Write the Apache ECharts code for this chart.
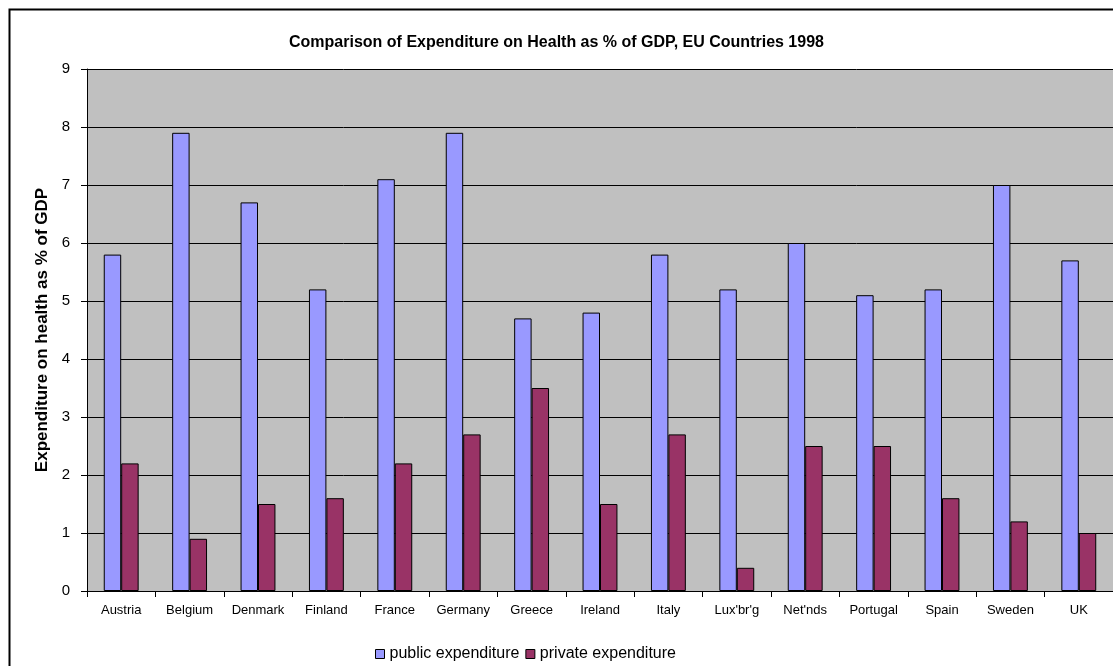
<!DOCTYPE html>
<html><head><meta charset="utf-8">
<script src="https://cdn.jsdelivr.net/npm/echarts@6/dist/echarts.min.js"></script>
<style>html,body{margin:0;padding:0;background:#fff}#c{width:1113px;height:666px}</style>
</head><body><div id="c"></div>
<script>
var categories = ["Austria","Belgium","Denmark","Finland","France","Germany","Greece","Ireland","Italy","Lux'br'g","Net'nds","Portugal","Spain","Sweden","UK"];
var publicExp = [5.8,7.9,6.7,5.2,7.1,7.9,4.7,4.8,5.8,5.2,6.0,5.1,5.2,7.0,5.7];
var privateExp = [2.2,0.9,1.5,1.6,2.2,2.7,3.5,1.5,2.7,0.4,2.5,2.5,1.6,1.2,1.0];
var yTicks = [0,1,2,3,4,5,6,7,8,9];

var chart = echarts.init(document.getElementById('c'), null, {renderer:'canvas'});
var FONT = 'Arial, "Liberation Sans", sans-serif';
chart.setOption({
  animation:false,
  backgroundColor:'#fff',
  graphic:[{type:'rect', left:7, top:7, shape:{width:1130, height:680}, style:{fill:'none', stroke:'#000', lineWidth:2}, z:-1}],
  title:{text:'Comparison of Expenditure on Health as % of GDP, EU Countries 1998', left:'center', top:30,
    textStyle:{fontFamily:FONT, fontSize:16, fontWeight:'bold', color:'#000'}},
  legend:{top:641, left:370, itemWidth:9, itemHeight:9, itemGap:6,
    textStyle:{fontFamily:FONT, fontSize:16, color:'#000'},
    data:[{name:'public expenditure', icon:'rect', itemStyle:{borderColor:'#000', borderWidth:1}},
          {name:'private expenditure', icon:'rect', itemStyle:{borderColor:'#000', borderWidth:1}}]},
  grid:{left:87, top:69, width:1030, height:522, backgroundColor:'#C0C0C0', show:true, borderWidth:0},
  xAxis:{type:'category', data:categories,
    axisLine:{lineStyle:{color:'#000', width:1}},
    axisTick:{show:true, interval:0, length:6, lineStyle:{color:'#000'}},
    axisLabel:{interval:0, margin:13, fontFamily:FONT, fontSize:13, color:'#000'}},
  yAxis:{type:'value', min:0, max:9, interval:1,
    name:'Expenditure on health as % of GDP', nameLocation:'middle', nameGap:33,
    nameTextStyle:{fontFamily:FONT, fontSize:17, fontWeight:'bold', color:'#000'},
    axisLine:{show:true, lineStyle:{color:'#000'}},
    axisTick:{show:true, length:6, lineStyle:{color:'#000'}},
    axisLabel:{margin:17, fontFamily:FONT, fontSize:15, color:'#000',
      formatter:function(v){return yTicks.indexOf(v)>=0?String(v):'';}},
    splitLine:{show:true, lineStyle:{color:'#000', width:1}}},
  series:[
    {name:'public expenditure', type:'bar', data:publicExp, barGap:'0%', barCategoryGap:'49%',
     itemStyle:{color:'#9999FF', borderColor:'#000', borderWidth:1}},
    {name:'private expenditure', type:'bar', data:privateExp, barGap:'0%', barCategoryGap:'49%',
     itemStyle:{color:'#993366', borderColor:'#000', borderWidth:1}}
  ]
});
</script></body></html>
